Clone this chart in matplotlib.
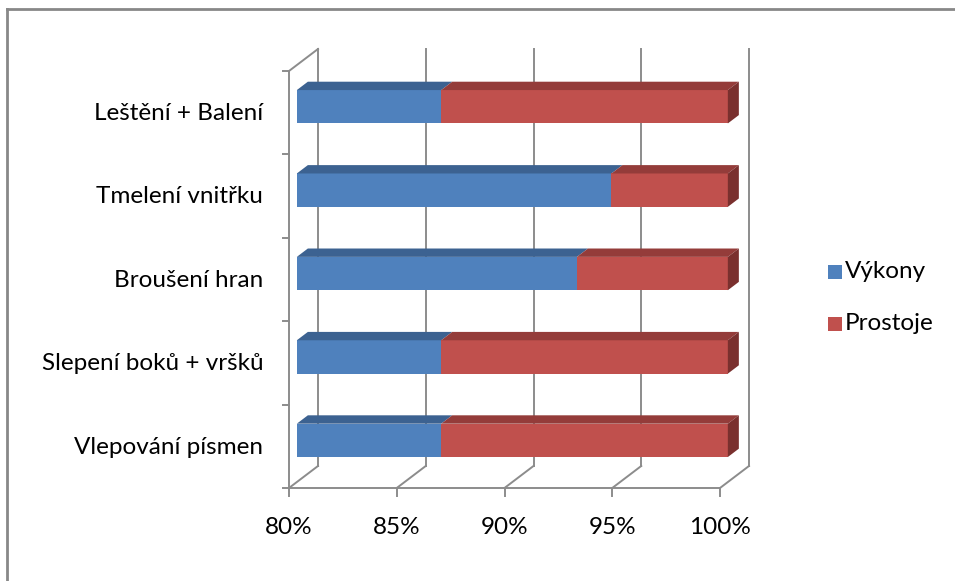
import matplotlib.pyplot as plt
from matplotlib.patches import Polygon, Rectangle
from matplotlib.lines import Line2D

# stacked 100 % shares per operation (bottom to top)
categories = ["Vlepování písmen", "Slepení boků + vršků", "Broušení hran",
              "Tmelení vnitřku", "Leštění + Balení"]
vykony = [86.7, 86.7, 93.0, 94.6, 86.7]
prostoje = [100 - v for v in vykony]
x_ticks = [80, 85, 90, 95, 100]
x_labels = ["80%", "85%", "90%", "95%", "100%"]

series = [
    ("Výkony", vykony, "#4F81BD", "#3C6291", "#345680"),
    ("Prostoje", prostoje, "#C0504D", "#943C3A", "#7A302E"),
]

grid_col = "#8C8C8C"
font = ["Lato", "DejaVu Sans"]
fs = 17.5

fig = plt.figure(figsize=(9.55, 5.81), dpi=100)
ax = fig.add_axes([0, 0, 1, 1])
ax.axis("off")

# axes scale: 1 % of x ~ 21.55 px, one category ~ 83.4 px
xmin, xmax = 80 - 289 / 21.55, 80 + 666 / 21.55
ymin, ymax = -93 / 83.4, 488 / 83.4
ax.set_xlim(xmin, xmax)
ax.set_ylim(ymin, ymax)

# depth of the 3D box (in data units)
DX, DY = 1.346, 0.264
n = len(categories)
lw = 1.4

# back wall gridlines and floor diagonals
for t, lab in zip(x_ticks, x_labels):
    ax.add_line(Line2D([t + DX, t + DX], [DY, n + DY], color=grid_col, lw=lw))
    ax.add_line(Line2D([t, t + DX], [0, DY], color=grid_col, lw=lw))
    ax.add_line(Line2D([t, t], [0, -0.09], color=grid_col, lw=lw))
    ax.text(t, -0.47, lab, ha="center", va="center",
            fontsize=fs, family=font, color="black")

# floor front edge and left wall
ax.add_line(Line2D([80, 100], [0, 0], color=grid_col, lw=lw))
ax.add_line(Line2D([80, 80], [0, n], color=grid_col, lw=lw))
ax.add_line(Line2D([80, 80 + DX], [n, n + DY], color=grid_col, lw=lw))
for i in range(n + 1):
    ax.add_line(Line2D([80 - 0.3, 80], [i, i], color=grid_col, lw=lw))

# bars (cumulative shares, clipped to the 80 % axis start)
f0, f1 = 0.27, 0.65
d = f1 - f0
bh = 0.40
for i, cat in enumerate(categories):
    yb = i + 0.5 - bh / 2 + f0 * DY
    cum = 0.0
    for k, (name, vals, c_front, c_top, c_side) in enumerate(series):
        x0 = max(cum, 80.0)
        cum += vals[i]
        x1 = min(cum, 100.0)
        x0s, x1s = x0 + f0 * DX, x1 + f0 * DX
        ax.add_patch(Rectangle((x0s, yb), x1s - x0s, bh, facecolor=c_front,
                               edgecolor="none", zorder=3))
        top = [(x0s, yb + bh), (x1s, yb + bh),
               (x1s + d * DX, yb + bh + d * DY), (x0s + d * DX, yb + bh + d * DY)]
        ax.add_patch(Polygon(top, closed=True, facecolor=c_top,
                             edgecolor="none", zorder=3))
        if k == len(series) - 1:
            side = [(x1s, yb), (x1s + d * DX, yb + d * DY),
                    (x1s + d * DX, yb + bh + d * DY), (x1s, yb + bh)]
            ax.add_patch(Polygon(side, closed=True, facecolor=c_side,
                                 edgecolor="none", zorder=3))
    ax.text(80 - 1.2, i + 0.5 - 0.01, cat, ha="right", va="center",
            fontsize=fs, family=font, color="black")

# legend
for j, (name, vals, c_front, _, _) in enumerate(series):
    ly = 2.59 - j * 0.625
    ax.add_patch(Rectangle((105.0, ly - 0.084), 0.65, 0.168,
                           facecolor=c_front, edgecolor="none"))
    ax.text(105.8, ly + 0.01, name, ha="left", va="center", fontsize=fs,
            family=font, color="black")

# chart area border (top and left edges)
fig.add_artist(Line2D([0.007, 1.0], [1 - 9 / 581, 1 - 9 / 581],
                      transform=fig.transFigure, color="#888888", lw=2))
fig.add_artist(Line2D([7 / 955, 7 / 955], [0, 1 - 9 / 581],
                      transform=fig.transFigure, color="#888888", lw=2))

fig.savefig("out.png", dpi=100)
plt.close(fig)
